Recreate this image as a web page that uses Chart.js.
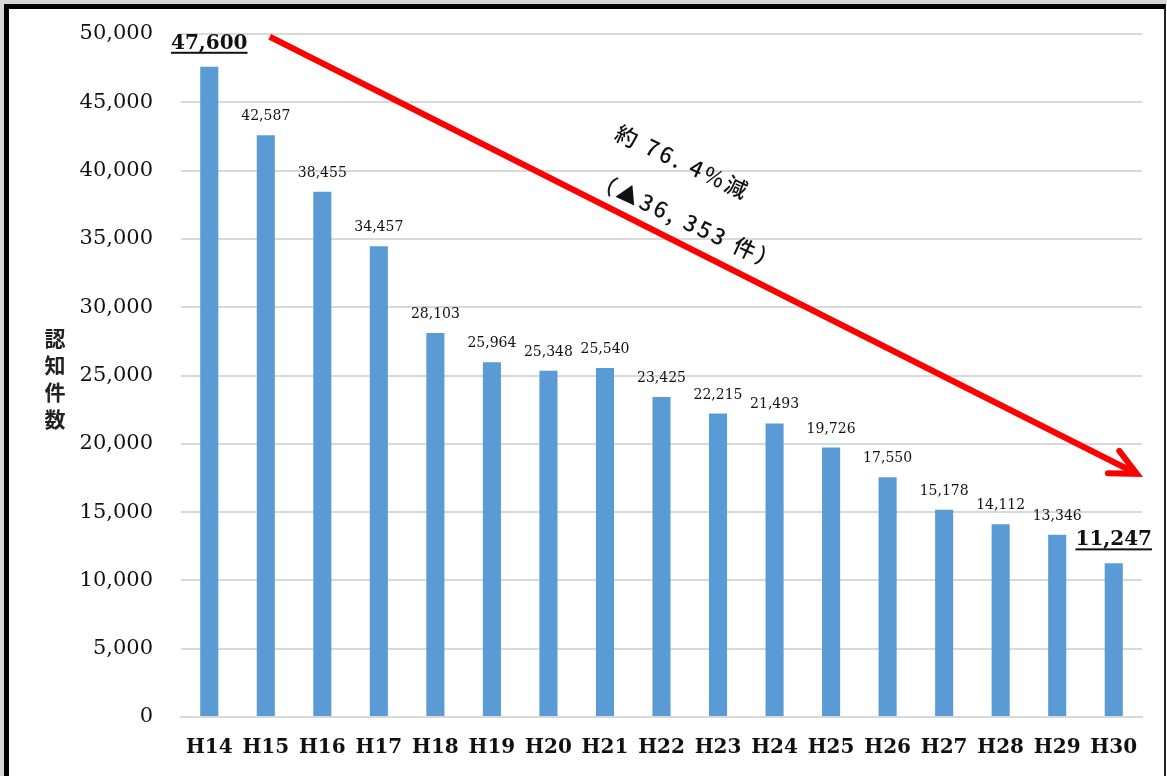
<!DOCTYPE html>
<html>
<head>
<meta charset="utf-8">
<script src="https://cdn.jsdelivr.net/npm/chart.js@4.4.1/dist/chart.umd.min.js"></script>
<style>
  html, body { margin: 0; padding: 0; background: #fff; }
  #wrap { position: relative; width: 1167px; height: 776px; overflow: hidden; }
  #chart { position: absolute; left: 0; top: 0; }
  .shade { position: absolute; left: 0; top: 0; width: 1167px; height: 776px;
           border-left: 4px solid #d6d6d6; border-top: 4px solid #d6d6d6; box-sizing: border-box; pointer-events: none; }
  .frame { position: absolute; left: 4px; top: 4px; width: 1162px; height: 790px;
           border-left: 5px solid #000; border-top: 5px solid #000; border-right: 2px solid #222;
           box-sizing: border-box; pointer-events: none; }
</style>
</head>
<body>
<div id="wrap">
  <canvas id="chart" width="1167" height="776"></canvas>
  <div class="shade"></div>
  <div class="frame"></div>
</div>
<script>
// 年度別の認知件数
const years = ['H14', 'H15', 'H16', 'H17', 'H18', 'H19', 'H20', 'H21', 'H22',
               'H23', 'H24', 'H25', 'H26', 'H27', 'H28', 'H29', 'H30'];
const counts = [47600, 42587, 38455, 34457, 28103, 25964, 25348, 25540, 23425,
                22215, 21493, 19726, 17550, 15178, 14112, 13346, 11247];
const yTicks = [0, 5000, 10000, 15000, 20000, 25000, 30000, 35000, 40000, 45000, 50000];
const axisTitle = ['認', '知', '件', '数'];
const noteLines = ['約 76. 4%減', '（▲36, 353 件）'];

// 強調する年度（最初と最後）
const highlight = [0, counts.length - 1];

// 矢印の始点・終点（カテゴリ位置, 件数）
const arrowFrom = [1.07, 49800];
const arrowTo = [16.41, 17800];

const serif = '"DejaVu Serif", "Liberation Serif", serif';
const gothic = '"Noto Sans CJK JP", "Noto Sans", sans-serif';
const fmt = v => v.toLocaleString('en-US');

// 棒の上に件数を描く
const valueLabels = {
  id: 'valueLabels',
  afterDatasetsDraw(chart) {
    const ctx = chart.ctx;
    const meta = chart.getDatasetMeta(0);
    ctx.save();
    ctx.textAlign = 'center';
    ctx.textBaseline = 'alphabetic';
    ctx.fillStyle = '#111';
    meta.data.forEach((bar, i) => {
      const text = fmt(counts[i]);
      if (highlight.includes(i)) {
        ctx.font = 'bold 20px ' + serif;
        const y = bar.y - 18;
        ctx.fillText(text, bar.x, y);
        const w = ctx.measureText(text).width;
        ctx.fillRect(bar.x - w / 2, y + 3, w, 2);
      } else {
        ctx.font = '14px ' + serif;
        ctx.fillText(text, bar.x, bar.y - 15);
      }
    });
    ctx.restore();
  }
};

// 縦書きの軸タイトル
const stackedTitle = {
  id: 'stackedTitle',
  afterDraw(chart) {
    const ctx = chart.ctx;
    const area = chart.chartArea;
    const step = 27;
    const cy = (area.top + area.bottom) / 2 + 3;
    ctx.save();
    ctx.font = 'bold 21px ' + gothic;
    ctx.fillStyle = '#222';
    ctx.textAlign = 'center';
    ctx.textBaseline = 'middle';
    axisTitle.forEach((ch, i) => {
      ctx.fillText(ch, 55, cy + (i - (axisTitle.length - 1) / 2) * step);
    });
    ctx.restore();
  }
};

// 減少を示す赤い矢印と注記
const trendArrow = {
  id: 'trendArrow',
  afterDraw(chart) {
    const { ctx, scales: { x, y } } = chart;
    const ax = x.getPixelForValue(arrowFrom[0]), ay = y.getPixelForValue(arrowFrom[1]);
    const bx = x.getPixelForValue(arrowTo[0]), by = y.getPixelForValue(arrowTo[1]);
    const ang = Math.atan2(by - ay, bx - ax);
    const len = Math.hypot(bx - ax, by - ay);

    ctx.save();
    ctx.strokeStyle = '#ff0000';
    ctx.lineWidth = 6;
    ctx.lineCap = 'butt';
    ctx.beginPath();
    ctx.moveTo(ax, ay);
    ctx.lineTo(bx - 4 * Math.cos(ang), by - 4 * Math.sin(ang));
    ctx.stroke();

    // 矢じり
    const head = 29, spread = 0.45;
    ctx.lineJoin = 'miter';
    ctx.lineCap = 'round';
    ctx.beginPath();
    ctx.moveTo(bx - head * Math.cos(ang - spread), by - head * Math.sin(ang - spread));
    ctx.lineTo(bx, by);
    ctx.lineTo(bx - head * Math.cos(ang + spread), by - head * Math.sin(ang + spread));
    ctx.stroke();

    // 注記（矢印に沿って傾ける）
    const nx = Math.sin(ang), ny = -Math.cos(ang);
    const spots = [[0.438, 74], [0.47, 23]];
    ctx.fillStyle = '#111';
    ctx.font = '500 22px ' + gothic;
    ctx.textAlign = 'center';
    ctx.textBaseline = 'middle';
    if ('letterSpacing' in ctx) ctx.letterSpacing = '3px';
    noteLines.forEach((line, i) => {
      const [t, d] = spots[i];
      const px = ax + t * len * Math.cos(ang) + d * nx;
      const py = ay + t * len * Math.sin(ang) + d * ny;
      ctx.save();
      ctx.translate(px, py);
      ctx.rotate(25 * Math.PI / 180);
      ctx.fillText(line, 0, 0);
      ctx.restore();
    });
    ctx.restore();
  }
};

new Chart(document.getElementById('chart'), {
  type: 'bar',
  data: {
    labels: years,
    datasets: [{
      data: counts,
      backgroundColor: '#5b9bd5',
      borderWidth: 0,
      categoryPercentage: 1,
      barPercentage: 0.32
    }]
  },
  options: {
    responsive: false,
    animation: false,
    devicePixelRatio: 1,
    layout: { padding: { top: 34, right: 25, bottom: 0, left: 0 } },
    plugins: { legend: { display: false }, tooltip: { enabled: false } },
    scales: {
      x: {
        grid: { display: false },
        border: { display: true, color: '#d9d9d9', width: 2 },
        ticks: { color: '#111', font: { family: serif, size: 20, weight: 'bold' }, padding: 11, maxRotation: 0, autoSkip: false },
        afterFit(scale) { scale.height = 59; }
      },
      y: {
        min: 0,
        max: 50000,
        afterBuildTicks(scale) { scale.ticks = yTicks.map(v => ({ value: v })); },
        // 目盛り線は透明にして、ラベルとの間隔を tickLength で取る
        grid: { color: '#d9d9d9', lineWidth: 2, drawTicks: true, tickLength: 22, tickColor: 'rgba(0,0,0,0)' },
        border: { display: false },
        ticks: { color: '#111', font: { family: serif, size: 21 }, padding: 6, callback: v => fmt(v) },
        afterFit(scale) { scale.width = 181; }
      }
    }
  },
  plugins: [valueLabels, stackedTitle, trendArrow]
});
</script>
</body>
</html>
